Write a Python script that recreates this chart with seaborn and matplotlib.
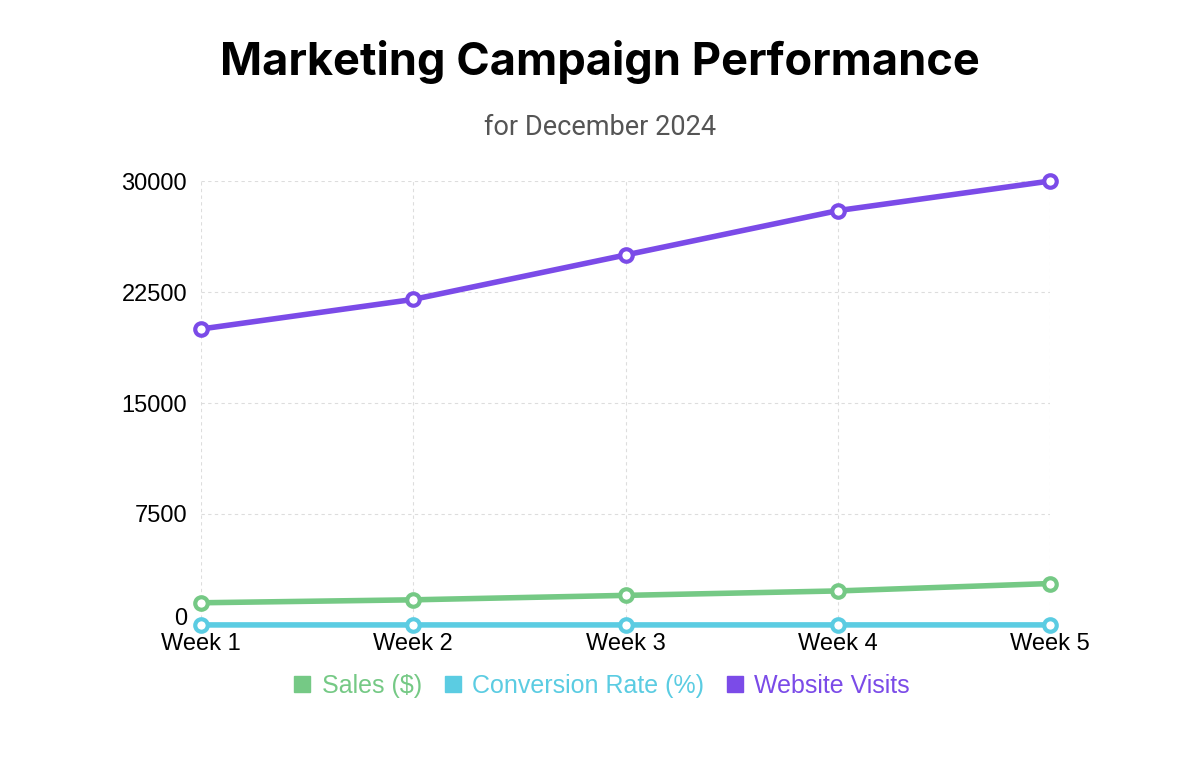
import pandas as pd
import matplotlib.pyplot as plt
import seaborn as sns
from matplotlib.lines import Line2D

weeks = ['Week 1', 'Week 2', 'Week 3', 'Week 4', 'Week 5']
sales = [1500, 1700, 2000, 2300, 2800]
conversion = [2.5, 3.0, 3.5, 4.0, 4.5]
visits = [20000, 22000, 25000, 28000, 30000]

series = ['Sales ($)', 'Conversion Rate (%)', 'Website Visits']
colors = ['#75c985', '#5bcce2', '#7b4be8']

df = pd.DataFrame({'week': weeks * 3,
                   'serie': [series[0]] * 5 + [series[1]] * 5 + [series[2]] * 5,
                   'valor': sales + conversion + visits})

sns.set_style("white")
plt.rcParams['font.family'] = ['Liberation Sans', 'DejaVu Sans']
plt.rcParams['font.sans-serif'] = ['Liberation Sans', 'DejaVu Sans']

fig = plt.figure(figsize=(12, 7.71), dpi=100)
ax = fig.add_axes([0.1675, 0.1894, 0.7075, 0.5758])

sns.lineplot(data=df, x='week', y='valor', hue='serie', palette=colors,
             hue_order=series, linewidth=4, marker='o', markersize=9,
             markerfacecolor='white', markeredgewidth=3, legend=False,
             ax=ax, clip_on=False, zorder=3)
# borda do marcador na cor da linha
for line, c in zip(ax.lines, colors):
    line.set_markeredgecolor(c)

ax.set_xlim(0, 4)
ax.set_ylim(0, 30000)
ax.set_yticks([0, 7500, 15000, 22500, 30000])
ax.set_xlabel('')
ax.set_ylabel('')
ax.tick_params(axis='both', labelsize=17, length=0, colors='black')
ax.tick_params(axis='x', pad=6)
ax.tick_params(axis='y', pad=10)
# o "0" fica um pouco acima para nao encostar em "Week 1"
ax.get_yticklabels()[0].set_verticalalignment('baseline')
ax.grid(True, linestyle=(0, (3, 3)), linewidth=0.8, color='#dddddd')
sns.despine(ax=ax, left=True, bottom=True)

fig.text(0.5, 0.919, 'Marketing Campaign Performance', ha='center', va='center',
         fontsize=32.5, fontweight='bold', color='black',
         family=['Inter', 'DejaVu Sans'])
fig.text(0.5, 0.835, 'for December 2024', ha='center', va='center',
         fontsize=19.5, color='#555555', family=['Roboto', 'DejaVu Sans'])

handles = [Line2D([], [], marker='s', linestyle='none', markersize=11,
                  markerfacecolor=c, markeredgecolor=c) for c in colors]
leg = fig.legend(handles, series, loc='center', bbox_to_anchor=(0.5, 0.11),
                 ncol=3, frameon=False, handletextpad=0.3,
                 columnspacing=0.7, handlelength=1.0,
                 prop={'family': 'Liberation Sans', 'size': 18})
for t, c in zip(leg.get_texts(), colors):
    t.set_color(c)

plt.savefig('out.png', dpi=100)
